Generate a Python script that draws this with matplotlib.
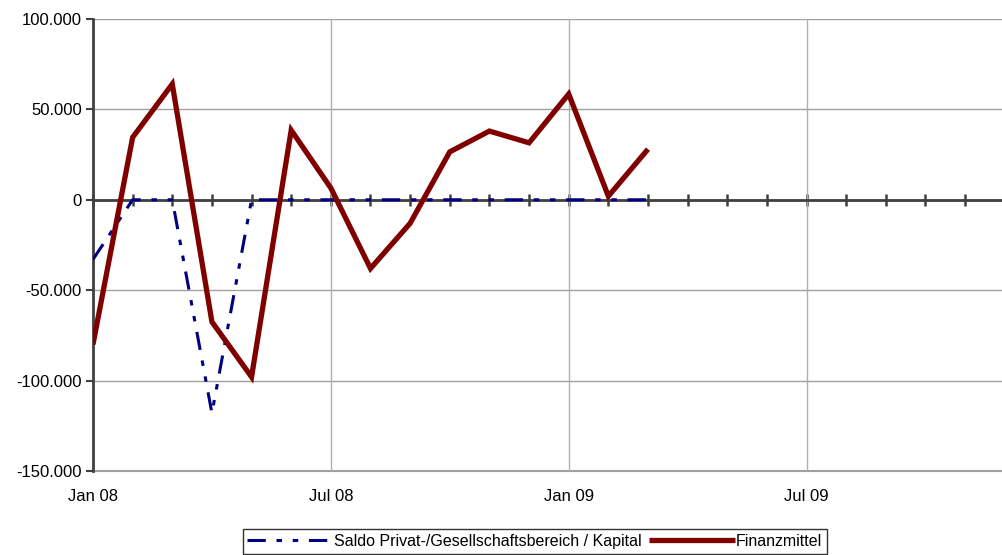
import matplotlib.pyplot as plt
from matplotlib.ticker import FuncFormatter, MultipleLocator, FixedLocator

plt.rcParams["font.family"] = ["Liberation Sans", "DejaVu Sans"]

# months since Jan 08
months = list(range(15))
saldo = [-33000, 0, 0, -118000, 0, 0, 0, 0, 0, 0, 0, 0, 0, 0, 0]
finanzmittel = [-80000, 34500, 64000, -67500, -98000, 38500, 6500, -38000,
                -13000, 26500, 38000, 31500, 58500, 2000, 28000]

x_labels = ["Jan 08", "Jul 08", "Jan 09", "Jul 09"]
x_label_pos = [0, 6, 12, 18]

fig = plt.figure(figsize=(10.02, 5.55), dpi=100)
ax = fig.add_axes([0.0928, 0.1514, 0.9072, 0.8144])

ax.plot(months, saldo, color="#000080", lw=2.2, dashes=(6, 3.5, 1.8, 3.5, 1.8, 3.5),
        label="Saldo Privat-/Gesellschaftsbereich / Kapital", zorder=4)
ax.plot(months, finanzmittel, color="#800000", lw=3.8, solid_capstyle="butt",
        label="Finanzmittel", zorder=5, solid_joinstyle="miter")

ax.set_xlim(0, 22.93)
ax.set_ylim(-150000, 100000)

# y axis
ax.yaxis.set_major_locator(MultipleLocator(50000))
ax.yaxis.set_major_formatter(FuncFormatter(lambda v, p: f"{v:,.0f}".replace(",", ".")))
ax.tick_params(axis="y", direction="out", length=5, width=1.5, color="#404040",
               labelsize=12, pad=3)
ax.grid(axis="y", color="#a0a0a0", lw=1)
ax.set_axisbelow(True)
for v in x_label_pos[1:]:
    ax.axvline(v, color="#b0b0b0", lw=1, zorder=1)

# zero line with month ticks
ax.spines["bottom"].set_position(("data", 0))
ax.spines["bottom"].set_color("#404040")
ax.spines["bottom"].set_linewidth(2)
ax.spines["bottom"].set_zorder(3)
ax.xaxis.set_major_locator(MultipleLocator(1))
ax.tick_params(axis="x", direction="inout", length=9, width=1.8, color="#404040",
               labelbottom=False)
ax.spines["left"].set_color("#404040")
ax.spines["left"].set_linewidth(2)
ax.spines["top"].set_visible(False)
ax.spines["right"].set_visible(False)

# date labels at the bottom
sec = ax.secondary_xaxis(0)
sec.xaxis.set_major_locator(FixedLocator(x_label_pos))
sec.set_xticklabels(x_labels)
sec.tick_params(length=0, labelsize=12, pad=13)
sec.spines["bottom"].set_color("#a0a0a0")
sec.spines["bottom"].set_linewidth(1.5)

leg = fig.legend(loc="upper center", bbox_to_anchor=(0.5335, 0.0468), ncol=2,
                 fontsize=11.5, frameon=True, fancybox=False, handlelength=5.35,
                 handletextpad=0.05, columnspacing=0.5, borderpad=0.3,
                 borderaxespad=0)
leg.get_frame().set_edgecolor("black")
leg.get_frame().set_linewidth(1)

fig.savefig("out.png", dpi=100)
